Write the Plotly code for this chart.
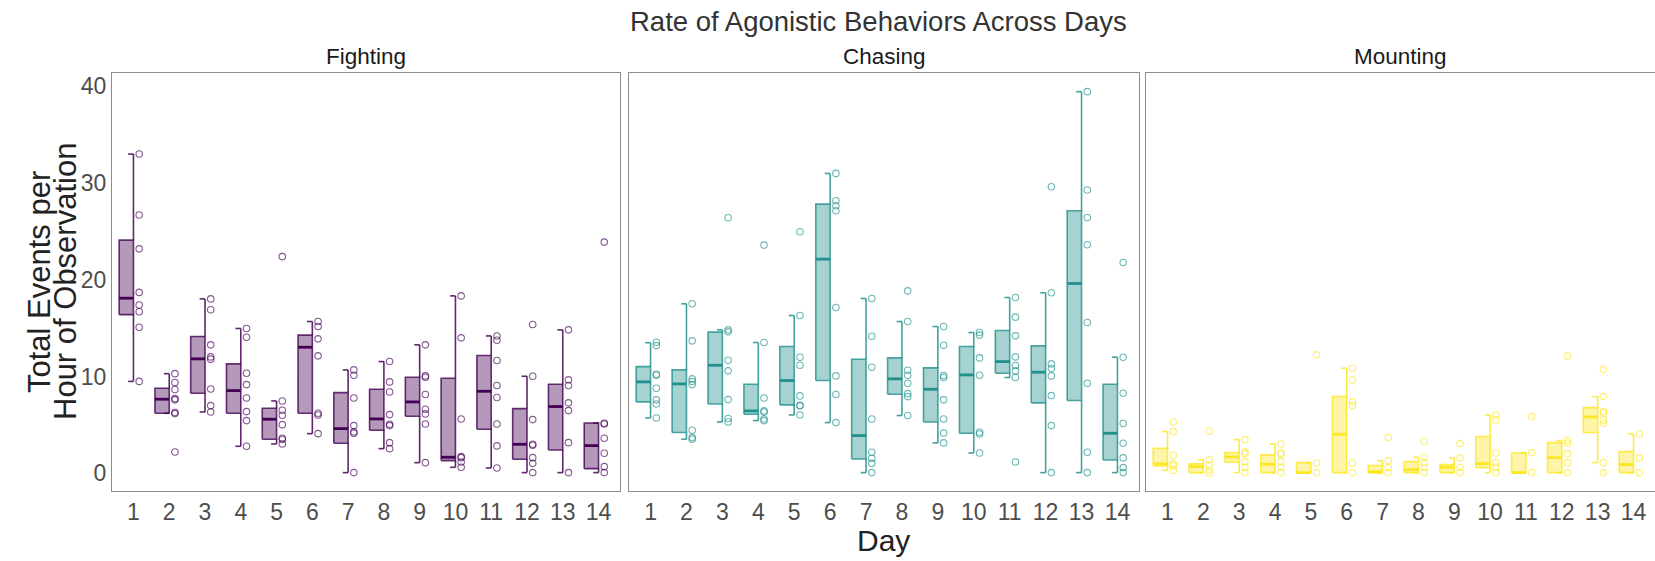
import plotly.graph_objects as go

days = list(range(1, 15))
behaviors = ["Fighting", "Chasing", "Mounting"]
colors = {"Fighting": (68, 1, 84), "Chasing": (33, 144, 140), "Mounting": (253, 231, 37)}

# ---- Fighting ----
fight_pts = [
    [33.0, 26.7, 23.2, 18.7, 17.4, 16.7, 15.1, 9.5],
    [10.3, 9.38, 8.66, 7.72, 7.59, 6.28, 6.17, 2.2],
    [18.03, 16.9, 13.28, 12.03, 11.8, 8.72, 7.0, 6.34],
    [14.97, 14.07, 10.34, 9.17, 7.79, 6.38, 5.45, 2.79],
    [22.4, 7.48, 6.52, 6.0, 5.03, 3.62, 3.5, 3.03],
    [15.69, 15.17, 13.9, 12.14, 6.2, 6.03, 4.1],
    [10.69, 10.14, 7.79, 4.93, 4.28, 4.14, 0.07],
    [11.55, 9.45, 8.41, 6.07, 5.07, 4.93, 3.17, 2.55],
    [13.28, 10.07, 9.93, 8.14, 6.62, 6.14, 5.1, 1.1],
    [18.34, 14.0, 5.62, 1.72, 1.62, 1.17, 0.62],
    [14.2, 13.76, 11.66, 9.07, 7.83, 5.1, 2.83, 0.55],
    [15.38, 10.03, 5.55, 3.0, 2.9, 1.62, 1.03, 0.07],
    [14.83, 9.66, 9.07, 7.28, 6.48, 3.17, 0.07],
    [23.9, 5.17, 5.1, 3.62, 2.07, 0.69, 0.07],
]
fight_q1 = [16.4, 6.2, 8.28, 6.2, 3.52, 6.2, 3.1, 4.45, 5.9, 1.31, 4.55, 1.45, 2.41, 0.48]
fight_med = [18.1, 7.66, 11.83, 8.55, 5.59, 13.03, 4.62, 5.62, 7.38, 1.66, 8.48, 3.0, 6.9, 2.86]
fight_q3 = [24.1, 8.79, 14.14, 11.31, 6.72, 14.28, 8.34, 8.69, 9.93, 9.83, 12.17, 6.69, 9.21, 5.2]
fight_lo = [9.5, 6.2, 6.34, 2.79, 3.03, 4.1, 0.07, 2.55, 1.1, 0.62, 0.55, 0.07, 0.07, 0.07]
fight_hi = [33.0, 10.3, 18.03, 14.97, 7.48, 15.69, 10.69, 11.55, 13.28, 18.34, 14.2, 10.03, 14.83, 5.2]

# ---- Chasing ----
chase_pts = [
    [13.55, 13.2, 10.24, 10.14, 8.79, 7.59, 7.17, 5.72],
    [17.52, 13.69, 9.76, 9.48, 9.17, 4.45, 3.69, 3.52],
    [26.41, 14.83, 14.62, 11.69, 10.59, 7.62, 5.66, 5.31],
    [23.59, 13.52, 7.79, 6.45, 6.34, 5.62, 5.45],
    [24.97, 16.31, 12.0, 11.17, 8.0, 7.03, 6.97, 6.03],
    [31.0, 28.17, 27.66, 27.14, 17.14, 10.07, 8.14, 5.24],
    [18.07, 14.17, 10.97, 5.62, 2.17, 1.55, 1.03, 0.07],
    [18.86, 15.69, 10.66, 10.14, 9.31, 8.24, 7.93, 5.97],
    [15.17, 13.24, 10.1, 9.9, 7.59, 5.62, 4.17, 3.14],
    [14.55, 14.28, 11.93, 10.14, 4.24, 4.07, 2.1],
    [18.17, 16.14, 14.21, 12.03, 11.14, 10.59, 9.9, 1.17],
    [29.62, 18.66, 11.31, 10.83, 10.07, 8.03, 4.93, 0.07],
    [39.45, 29.28, 26.45, 23.62, 15.59, 9.31, 2.17, 0.07],
    [21.79, 12.0, 8.28, 5.14, 3.1, 1.59, 0.59, 0.07],
]
chase_q1 = [7.38, 4.21, 7.17, 6.1, 7.07, 9.59, 1.48, 8.17, 5.31, 4.14, 10.34, 7.28, 7.52, 1.38]
chase_med = [9.45, 9.24, 11.17, 6.45, 9.59, 22.14, 3.9, 9.76, 8.69, 10.17, 11.55, 10.45, 19.62, 4.14]
chase_q3 = [11.03, 10.69, 14.59, 9.21, 13.1, 27.83, 11.79, 11.93, 10.9, 13.1, 14.76, 13.17, 27.14, 9.21]
chase_lo = [5.72, 3.52, 5.31, 5.45, 6.03, 5.24, 0.07, 5.97, 3.14, 2.1, 9.9, 0.07, 0.07, 0.07]
chase_hi = [13.5, 17.52, 14.83, 13.52, 16.31, 31.0, 18.07, 15.69, 15.17, 14.55, 18.17, 18.66, 39.45, 12.0]

# ---- Mounting ----
mount_pts = [
    [5.31, 4.31, 1.86, 1.03, 0.79, 0.28],
    [4.34, 1.41, 0.83, 0.34, 0.03],
    [3.48, 2.21, 2.03, 1.21, 0.59, 0.07],
    [3.03, 2.1, 1.97, 1.21, 0.62, 0.07],
    [12.24, 1.07, 0.07],
    [10.86, 9.66, 7.41, 7.0, 1.07, 0.07],
    [3.69, 1.31, 0.59, 0.07],
    [3.31, 1.66, 1.1, 0.62, 0.07],
    [3.07, 1.59, 0.62, 0.07],
    [6.03, 5.52, 2.1, 1.1, 0.62, 0.07],
    [5.86, 2.14, 0.07],
    [12.14, 3.38, 3.1, 2.03, 1.1, 0.07],
    [10.72, 7.93, 6.38, 6.24, 5.52, 5.17, 1.1, 0.07],
    [4.07, 1.59, 0.07],
]
mount_q1 = [0.76, 0.07, 1.14, 0.07, 0.03, 0.07, 0.03, 0.07, 0.07, 0.59, 0.07, 0.07, 4.21, 0.07]
mount_med = [0.97, 0.69, 1.69, 0.93, 0.07, 4.03, 0.17, 0.38, 0.62, 1.0, 0.07, 1.62, 5.83, 0.9]
mount_q3 = [2.59, 0.97, 2.14, 1.9, 1.1, 7.93, 0.79, 1.21, 0.9, 3.79, 2.1, 3.17, 6.79, 2.24]
mount_lo = [0.31, 0.07, 0.07, 0.07, 0.03, 0.07, 0.03, 0.07, 0.07, 0.07, 0.07, 0.07, 1.1, 0.07]
mount_hi = [4.31, 1.41, 3.48, 3.03, 1.1, 10.86, 1.31, 1.66, 1.59, 6.03, 2.14, 3.38, 7.93, 4.07]

y_ticks = [0, 10, 20, 30, 40]

data = {
    "Fighting": (fight_pts, fight_q1, fight_med, fight_q3, fight_lo, fight_hi),
    "Chasing": (chase_pts, chase_q1, chase_med, chase_q3, chase_lo, chase_hi),
    "Mounting": (mount_pts, mount_q1, mount_med, mount_q3, mount_lo, mount_hi),
}

W, H = 1655, 561
BOX_W = 0.4
CAP_W = 0.15
PT_OFF = 0.16
FONT = "Liberation Sans, Arial, sans-serif"


def fx(px):
    return px / W


def fy(py):
    return 1 - py / H


def rgba(c, a):
    return "rgba(%d,%d,%d,%.2f)" % (c[0], c[1], c[2], a)


fig = go.Figure()
for i, b in enumerate(behaviors):
    pts, q1, med, q3, lo, hi = data[b]
    c = colors[b]
    xa = "x" if i == 0 else "x%d" % (i + 1)
    ya = "y" if i == 0 else "y%d" % (i + 1)
    bx, by = [], []
    for d, a, m, t in zip(days, q1, med, q3):
        bx += [d - BOX_W, d, d, d - BOX_W, d - BOX_W, None]
        by += [a, a, t, t, a, None]
    fig.add_trace(go.Scatter(x=bx, y=by, xaxis=xa, yaxis=ya, mode="lines", fill="toself",
                             fillcolor=rgba(c, 0.4), line=dict(color=rgba(c, 0.8), width=1.6),
                             hoverinfo="skip", showlegend=False))
    wx, wy = [], []
    for d, a, t, l, h in zip(days, q1, q3, lo, hi):
        wx += [d, d, None, d, d, None, d - CAP_W, d, None, d - CAP_W, d, None]
        wy += [l, a, None, t, h, None, l, l, None, h, h, None]
    fig.add_trace(go.Scatter(x=wx, y=wy, xaxis=xa, yaxis=ya, mode="lines",
                             line=dict(color=rgba(c, 0.85), width=1.6),
                             hoverinfo="skip", showlegend=False))
    mx, my = [], []
    for d, m in zip(days, med):
        mx += [d - BOX_W, d, None]
        my += [m, m, None]
    fig.add_trace(go.Scatter(x=mx, y=my, xaxis=xa, yaxis=ya, mode="lines",
                             line=dict(color=rgba(c, 1.0), width=2.8),
                             hoverinfo="skip", showlegend=False))
    px, py = [], []
    for d, p in zip(days, pts):
        px += [d + PT_OFF] * len(p)
        py += p
    fig.add_trace(go.Scatter(x=px, y=py, xaxis=xa, yaxis=ya, mode="markers",
                             marker=dict(symbol="circle-open", size=6.5,
                                         color=rgba(c, 0.65), line=dict(width=1.1)),
                             hoverinfo="skip", showlegend=False))

panel_px = [(112, 620), (629, 1139), (1146, 1655)]
ydom = [fy(491), fy(73)]
axis_common = dict(showgrid=False, zeroline=False, showline=True, mirror=True,
                   linecolor="#8c8c8c", linewidth=1)
tickfont = dict(family=FONT, size=23, color="#4d4d4d")

layout = dict(width=W, height=H, margin=dict(l=0, r=0, t=0, b=0),
              paper_bgcolor="white", plot_bgcolor="white", showlegend=False,
              font=dict(family=FONT))
for i, (x0, x1) in enumerate(panel_px):
    xk = "xaxis" if i == 0 else "xaxis%d" % (i + 1)
    yk = "yaxis" if i == 0 else "yaxis%d" % (i + 1)
    layout[xk] = dict(domain=[fx(x0), min(fx(x1), 1.0)], range=[0.4, 14.6],
                      tickmode="array", tickvals=days, ticktext=[str(d) for d in days],
                      ticks="", tickfont=tickfont,
                      anchor="y" if i == 0 else "y%d" % (i + 1), **axis_common)
    layout[yk] = dict(domain=ydom, range=[-1.83, 41.38], tickmode="array",
                      tickvals=y_ticks, ticktext=[str(v) for v in y_ticks],
                      showticklabels=(i == 0), ticks="", tickfont=tickfont,
                      anchor="x" if i == 0 else "x%d" % (i + 1), **axis_common)
fig.update_layout(**layout)


def ann(text, xpx, ypx, size, color, angle=0):
    fig.add_annotation(text=text, x=fx(xpx), y=fy(ypx), xref="paper", yref="paper",
                       showarrow=False, textangle=angle, xanchor="center", yanchor="middle",
                       font=dict(family=FONT, size=size, color=color))


ann("Rate of Agonistic Behaviors Across Days", 879, 21, 27.5, "#333333")
for b, (x0, x1) in zip(behaviors, panel_px):
    ann(b, (x0 + x1) / 2, 57, 22.5, "#1a1a1a")
ann("Total Events per", 39, 282, 31, "#222222", -90)
ann("Hour of Observation", 65, 282, 31, "#222222", -90)
ann("Day", 883.5, 540, 30, "#222222")

fig.write_html("out.html", config={"displayModeBar": False},
               post_script="document.body.style.margin='0';document.body.style.overflow='hidden';")
